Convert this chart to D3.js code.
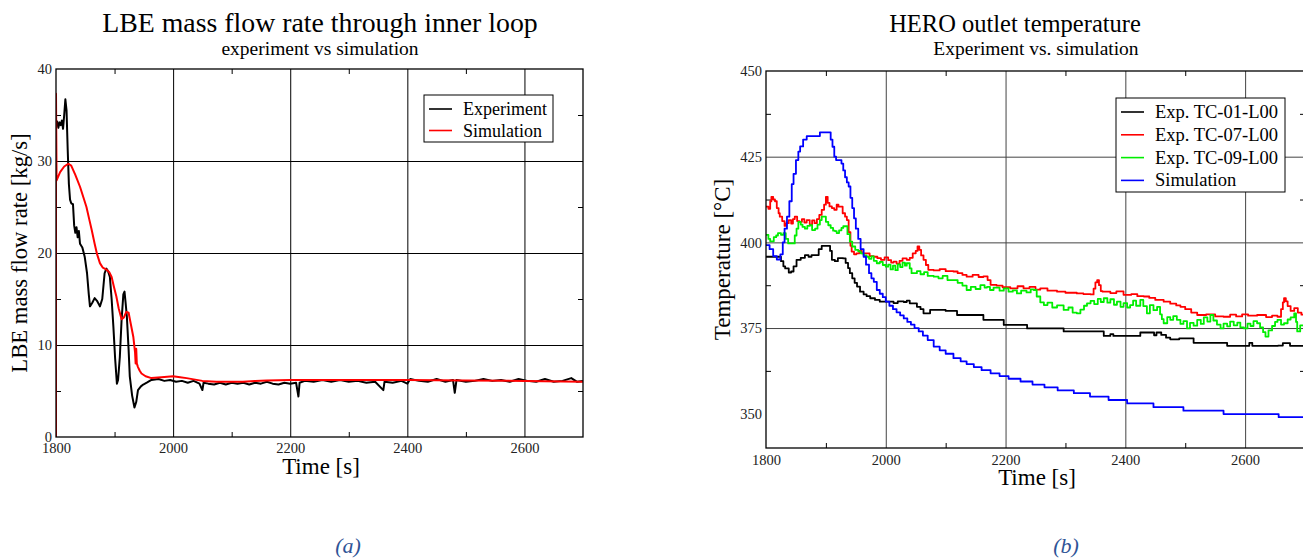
<!DOCTYPE html>
<html lang="en">
  <head>
    <meta charset="utf-8" />
    <script src="https://cdn.jsdelivr.net/npm/d3@7/dist/d3.min.js"></script>
    <style>
      body { margin: 0; background: #fff; }
      svg { font-family: "Liberation Serif", "Times New Roman", serif; }
      .tick text { fill: #222; }
      .domain { display: none; }
      .caption { fill: #2f5496; font-style: italic; font-size: 22px; }
    </style>
  </head>
  <body>
    <div id="container"></div>

    <script>
      const width = 1303;
      const height = 558;

      // ---- panel (a): LBE mass flow rate ----
      const flowExpT = [1800,1802,1804,1806,1808,1810,1812,1814,1816,1818,1820,1822,1824,1826,1829,1831,1833,1835,1837,1839,1841,1845,1849,1853,1856,1858,1862,1866,1870,1875,1879,1883,1886,1889,1892,1895,1898,1901,1904,1906,1909,1912,1915,1917,1919,1921,1924,1926,1930,1934,1937,1940,1945,1949,1955,1963,1975,1985,1995,2005,2015,2025,2035,2045,2050,2052,2060,2070,2080,2090,2100,2110,2120,2130,2140,2150,2160,2170,2180,2190,2200,2210,2214,2216,2225,2240,2255,2270,2285,2300,2315,2330,2345,2359,2361,2375,2390,2400,2405,2420,2435,2450,2465,2478,2481,2484,2500,2515,2530,2545,2560,2575,2590,2605,2620,2635,2650,2665,2680,2690,2700];
      const flowExpV = [33.8,34.3,33.6,34.2,33.9,34.4,33.5,35.0,36.7,35.5,31.2,27.5,25.8,25.4,25.3,23.0,22.2,22.8,21.7,22.4,21.0,20.6,19.6,17.8,15.5,14.2,14.6,15.1,14.8,14.2,15.0,17.8,18.3,18.0,17.4,15.0,12.0,8.5,5.8,6.2,8.7,12.7,15.5,15.8,14.5,13.1,9.5,6.6,4.5,3.2,3.8,5.1,5.5,5.7,5.9,6.2,6.3,6.1,6.2,6.0,6.1,5.9,6.1,5.8,5.1,5.9,5.8,5.7,5.9,5.7,5.9,5.8,5.9,5.7,5.9,5.8,6.0,5.8,5.7,5.9,5.8,5.9,4.4,5.9,6.1,6.0,6.2,6.0,6.2,6.0,6.1,5.9,6.0,5.1,6.0,5.9,6.1,5.8,6.3,6.1,6.0,6.3,6.0,6.2,4.8,6.2,6.0,6.1,6.3,6.1,6.2,6.0,6.3,6.1,6.0,6.3,6.0,6.1,6.4,6.0,6.1];

      const flowSimT = [1800,1800,1801,1807,1814,1821,1826,1833,1841,1847,1852,1857,1861,1866,1870,1875,1880,1886,1891,1895,1899,1903,1907,1912,1916,1920,1924,1928,1932,1935,1936,1937,1938,1940,1943,1946,1953,1963,1980,2000,2012,2023,2050,2074,2100,2119,2140,2160,2200,2250,2300,2400,2500,2600,2700];
      const flowSimV = [0,37.3,27.9,28.8,29.4,29.7,29.5,28.5,27.2,26.0,25.0,23.6,22.5,21.0,19.9,18.9,18.4,18.2,17.9,17.4,16.3,15.3,14.0,12.8,13.0,13.6,13.5,12.2,10.9,9.2,8.0,9.6,8.0,7.6,7.2,6.9,6.6,6.4,6.5,6.6,6.5,6.4,6.1,6.0,6.0,6.0,6.1,6.15,6.2,6.2,6.2,6.2,6.15,6.1,6.0];

      // ---- panel (b): HERO outlet temperature ----
      const simT = [1800,1806,1812,1818,1824,1828,1831,1835,1839,1843,1846,1850,1854,1857,1862,1868,1888,1890,1904,1908,1911,1914,1917,1926,1929,1932,1935,1938,1941,1944,1947,1950,1954,1958,1963,1967,1972,1976,1980,1985,1990,1995,2000,2006,2012,2018,2024,2030,2036,2042,2048,2055,2062,2070,2080,2090,2100,2113,2125,2135,2147,2160,2175,2190,2205,2225,2245,2265,2287,2314,2341,2372,2403,2447,2497,2564,2656,2700];
      const simV = [399.2,398,396,395,396.5,400,404,407.5,412,417,420,424,426.5,428,430,431,431,432.1,432.1,430,427.9,425,424,423,421,419,417.5,416.3,413,410,407,404,401,398,395.8,393.5,391,389.5,388.5,386.1,385,384,382.7,381.5,380.5,379.6,378.7,377.8,376.8,376,375,374,372.8,371.5,369.6,368.5,367.5,366.2,365.3,364.5,363.6,362.7,361.8,361,360.2,359.4,358.5,357.7,356.8,356.0,355.0,354.0,353.0,351.9,350.9,349.9,349.0,349.0];

      const tc01T = [1800,1821,1825,1829,1832,1838,1842,1846,1851,1858,1865,1871,1876,1882,1888,1893,1904,1907,1910,1915,1920,1929,1933,1937,1940,1944,1948,1952,1957,1963,1968,1974,1982,1990,2013,2020,2030,2035,2040,2052,2058,2063,2074,2100,2119,2158,2163,2185,2197,2236,2297,2330,2364,2375,2380,2403,2425,2440,2448,2452,2460,2468,2475,2490,2514,2570,2600,2607,2612,2655,2663,2675,2700];
      const tc01V = [395.8,395.8,394.5,393,392.4,391.2,391.5,393,394.9,395.5,396.3,395.8,396.3,396.3,398,399.0,399.0,397.5,394.9,394.5,395.4,395.3,394,392.5,391,389.5,388.2,387.1,385.6,384.8,384.3,383.7,383.2,382.7,382.3,382.8,382.6,383.0,382.2,381.2,380.5,379.3,380.3,380.0,378.8,378.8,377.4,377.4,375.9,374.9,374.0,374.0,372.7,373.2,372.7,372.7,373.7,373.7,372.9,373.7,373.0,372.2,371.7,372.0,370.7,369.8,369.8,370.7,369.8,369.9,370.6,369.8,369.8];

      const tc07T = [1800,1804,1807,1809,1812,1815,1818,1821,1823,1827,1831,1834,1838,1842,1845,1848,1852,1856,1860,1864,1868,1873,1877,1881,1885,1889,1893,1897,1900,1903,1906,1910,1914,1918,1921,1924,1928,1932,1935,1938,1941,1943,1947,1951,1956,1960,1968,1973,1980,1986,1992,1998,2004,2009,2013,2018,2023,2028,2035,2040,2045,2050,2053,2056,2059,2063,2067,2071,2080,2090,2100,2113,2120,2128,2135,2145,2155,2163,2170,2175,2185,2195,2208,2220,2230,2240,2250,2258,2270,2286,2300,2319,2330,2342,2347,2350,2353,2356,2359,2362,2375,2385,2397,2410,2420,2431,2440,2450,2464,2475,2485,2492,2500,2510,2520,2535,2550,2564,2575,2585,2595,2605,2620,2635,2645,2654,2660,2663,2665,2668,2671,2676,2682,2688,2694,2700];
      const tc07V = [410.4,409.8,412,413.3,412.5,412,410,408.5,407.5,406.2,404.8,405.6,406.5,405.5,406.8,407.5,406.2,406,406.8,405.8,406.5,405.2,406.4,405.6,406.8,408,409.5,411,413.3,411.5,410.5,410,409.5,411,410.4,410.4,408.5,407.5,406.5,403,399,397.3,396.5,396.8,397.5,396.8,396.8,396,395.8,395.4,394.9,395.6,394.8,394.1,394.4,393.8,394.6,395.3,394.9,395.5,396.8,397.5,398.8,397.8,396.2,394.9,393.4,392.0,391.8,392.2,391.6,391.5,391,390.5,390.0,390.5,389.9,390.1,389.0,387.6,387.4,386.9,386.6,387.2,386.6,387.0,386.2,386.6,385.9,385.6,385.3,385.1,384.9,384.8,386.5,388.3,389.0,387.5,385.8,385.6,385.2,385.7,384.7,384.9,384.3,384.2,383.8,383.2,382.7,382.1,381.6,381.2,380.5,379.5,378.8,379.0,378.4,378.3,378.9,378.4,379.0,378.6,378.8,378.2,378.6,378.3,380.5,382.5,383.7,382.8,381.4,380.0,380.8,379.5,378.9,379.0];

      const tc09T = [1800,1804,1807,1810,1813,1817,1820,1825,1829,1833,1837,1845,1848,1851,1854,1858,1861,1865,1869,1873,1877,1882,1886,1890,1893,1896,1900,1904,1908,1912,1915,1918,1922,1926,1929,1932,1936,1940,1944,1949,1954,1958,1963,1968,1972,1976,1980,1985,1990,1995,2000,2004,2008,2012,2016,2020,2024,2028,2032,2035,2040,2043,2046,2052,2058,2064,2070,2080,2088,2095,2103,2113,2120,2128,2135,2142,2150,2158,2165,2169,2174,2180,2190,2197,2205,2212,2219,2226,2235,2242,2247,2252,2258,2264,2270,2278,2286,2297,2305,2312,2319,2325,2331,2336,2342,2348,2354,2359,2364,2370,2375,2381,2386,2392,2397,2403,2408,2413,2418,2425,2430,2436,2441,2447,2453,2458,2461,2464,2470,2475,2480,2486,2492,2497,2503,2508,2514,2520,2526,2531,2537,2542,2547,2553,2559,2564,2570,2575,2581,2587,2592,2598,2604,2609,2614,2620,2625,2630,2634,2639,2645,2650,2654,2660,2665,2671,2676,2682,2685,2687,2692,2698,2700];
      const tc09V = [402.2,401,400.3,400.3,401.5,402,402.7,402.2,402.7,401,399.7,399.7,402,404,406,405.2,404.5,404,404.8,405,403.6,404,405.2,406.5,407.5,407.5,406,405,404.2,403.4,403.3,402.7,403.5,404.2,404.7,404.7,402.4,400.2,398.8,397.8,397.4,396.8,396.2,395.8,395.2,395.9,394.6,393.9,394.3,393.4,392.9,393.5,392.1,393.2,391.9,393.6,392.8,394.1,393.2,393.9,392.4,391.0,391.0,391.6,390.7,391.3,390.2,390.0,389.5,390.2,389.0,389.0,388.2,387.4,386.1,387.0,386.4,387.5,386.8,387.0,386.1,386.8,385.9,386.6,385.6,386.0,385.1,385.9,385.4,386.3,386.1,384.2,382.5,381.7,382.4,381.0,381.6,380.3,381.0,379.5,379.3,380.4,381.5,382.2,382.9,382.0,383.5,382.6,383.7,382.4,383.4,381.8,382.7,381.2,382.3,381.0,381.7,383.0,381.5,383.2,381.4,379.3,381.7,380.2,381.2,379.0,377.6,376.4,378.2,377.4,378.5,377.4,376.2,377.0,374.9,376.5,375.7,377.4,376.2,378.1,376.9,378.8,377.2,376.0,374.9,376.3,375.5,376.9,375.8,376.6,375.2,374.9,376.3,375.6,377.0,376.4,375.2,373.8,372.5,374.3,375.6,376.8,377.4,376.0,376.4,377.5,378.1,379.3,376.8,374.0,375.8,375.4,375.0];

      const xTicks = [1800, 2000, 2200, 2400, 2600];
      const xMinor = [1900, 2100, 2300, 2500];
      const flowTicks = [0, 10, 20, 30, 40];
      const flowMinor = [5, 15, 25, 35];
      const tempTicks = [350, 375, 400, 425, 450];
      const tempMinor = [362.5, 387.5, 412.5, 437.5];

      const zip = (t, v) => t.map((d, i) => [d, v[i]]);

      const svg = d3.select("#container").append("svg").attr("width", width).attr("height", height);

      function panel(o) {
        const x = d3.scaleLinear().domain([1800, 2700]).range([o.left, o.right]);
        const y = d3.scaleLinear().domain(o.ydom).range([o.bottom, o.top]);
        const g = svg.append("g");
        const h = o.bottom - o.top;
        const w = o.right - o.left;

        // grid
        g.append("g").attr("transform", `translate(0,${o.bottom})`)
          .call(d3.axisBottom(x).tickValues(xTicks.slice(1)).tickSize(-h).tickFormat(""))
          .selectAll("line").attr("stroke", o.gridColor);
        g.append("g").attr("transform", `translate(${o.left},0)`)
          .call(d3.axisLeft(y).tickValues(o.yTicks.slice(1, -1)).tickSize(-w).tickFormat(""))
          .selectAll("line").attr("stroke", o.gridColor);

        // minor ticks, inward on all sides
        const tk = 5;
        g.append("g").attr("transform", `translate(0,${o.bottom})`).call(d3.axisBottom(x).tickValues(xMinor).tickSize(-tk).tickFormat(""));
        g.append("g").attr("transform", `translate(0,${o.top})`).call(d3.axisTop(x).tickValues(xMinor).tickSize(-tk).tickFormat(""));
        g.append("g").attr("transform", `translate(${o.left},0)`).call(d3.axisLeft(y).tickValues(o.yMinor).tickSize(-tk).tickFormat(""));
        g.append("g").attr("transform", `translate(${o.right},0)`).call(d3.axisRight(y).tickValues(o.yMinor).tickSize(-tk).tickFormat(""));

        // tick labels
        g.append("g").attr("transform", `translate(0,${o.bottom})`)
          .call(d3.axisBottom(x).tickValues(xTicks).tickFormat(d3.format("d")).tickSize(0).tickPadding(o.xPad))
          .selectAll("text").style("font-size", "14.5px").style("font-family", "'Liberation Serif', serif");
        g.append("g").attr("transform", `translate(${o.left},0)`)
          .call(d3.axisLeft(y).tickValues(o.yTicks).tickFormat(d3.format("d")).tickSize(0).tickPadding(4))
          .selectAll("text").style("font-size", "14.5px").style("font-family", "'Liberation Serif', serif");

        // lines
        const clipId = "clip" + o.id;
        svg.append("clipPath").attr("id", clipId).append("rect")
          .attr("x", o.left).attr("y", o.top).attr("width", w).attr("height", h);
        const lg = g.append("g").attr("clip-path", `url(#${clipId})`);
        o.series.forEach((s) => {
          const line = d3.line().x((d) => x(d[0])).y((d) => y(d[1])).curve(o.curve);
          lg.append("path").datum(s.data).attr("fill", "none").attr("stroke", s.color)
            .attr("stroke-width", o.lw).attr("stroke-linejoin", "round").attr("d", line);
        });

        // frame
        g.append("rect").attr("x", o.left).attr("y", o.top).attr("width", w).attr("height", h)
          .attr("fill", "none").attr("stroke", "#000").attr("stroke-width", 1.3);

        // titles and axis labels
        g.append("text").attr("x", o.titleX).attr("y", 32).attr("text-anchor", "middle")
          .attr("font-size", o.titleSize).text(o.title);
        g.append("text").attr("x", o.subX).attr("y", 55).attr("text-anchor", "middle")
          .attr("font-size", 19.5).text(o.subtitle);
        g.append("text").attr("x", o.xlabX).attr("y", o.xlabY)
          .attr("text-anchor", "middle").attr("font-size", 23).text("Time [s]");
        g.append("text").attr("transform", `translate(${o.ylabX},${(o.top + o.bottom) / 2}) rotate(-90)`)
          .attr("text-anchor", "middle").attr("font-size", o.ylabSize).text(o.ylabel);

        // legend
        const L = o.legend;
        const leg = g.append("g");
        leg.append("rect").attr("x", L.x).attr("y", L.y).attr("width", L.w).attr("height", L.h)
          .attr("fill", "#fff").attr("stroke", "#000").attr("stroke-width", 1);
        o.series.forEach((s, i) => {
          const yy = L.y + L.first + i * L.step;
          leg.append("line").attr("x1", L.x + 5).attr("x2", L.x + 28).attr("y1", yy).attr("y2", yy)
            .attr("stroke", s.color).attr("stroke-width", 1.6);
          leg.append("text").attr("x", L.x + 39).attr("y", yy + 6).attr("font-size", L.fs).text(s.name);
        });
      }

      panel({
        id: "a", left: 56, right: 583, top: 69, bottom: 437, ydom: [0, 40],
        yTicks: flowTicks, yMinor: flowMinor, gridColor: "#000", xPad: 6,
        curve: d3.curveLinear, lw: 2,
        title: "LBE mass flow rate through inner loop", titleX: 320, titleSize: 27.8,
        subtitle: "experiment vs simulation", subX: 320,
        xlabX: 321, xlabY: 474, ylabX: 27, ylabSize: 22.7, ylabel: "LBE mass flow rate [kg/s]",
        legend: { x: 424, y: 95, w: 129, h: 47, first: 14, step: 21.5, fs: 18 },
        series: [
          { name: "Experiment", color: "#000", data: zip(flowExpT, flowExpV) },
          { name: "Simulation", color: "#ff0000", data: zip(flowSimT, flowSimV) },
        ],
      });

      panel({
        id: "b", left: 766, right: 1305, top: 71, bottom: 448, ydom: [340, 450],
        yTicks: tempTicks, yMinor: tempMinor, gridColor: "#444", xPad: 7,
        curve: d3.curveStepAfter, lw: 1.8,
        title: "HERO outlet temperature", titleX: 1015, titleSize: 24.5,
        subtitle: "Experiment vs. simulation", subX: 1036,
        xlabX: 1037, xlabY: 485, ylabX: 730, ylabSize: 23, ylabel: "Temperature [\u00b0C]",
        legend: { x: 1116, y: 98, w: 169, h: 94, first: 14, step: 22.8, fs: 18.5 },
        series: [
          { name: "Exp. TC-01-L00", color: "#000", data: zip(tc01T, tc01V) },
          { name: "Exp. TC-07-L00", color: "#ff0000", data: zip(tc07T, tc07V) },
          { name: "Exp. TC-09-L00", color: "#00ee00", data: zip(tc09T, tc09V) },
          { name: "Simulation", color: "#0000ff", data: zip(simT, simV) },
        ],
      });

      svg.append("text").attr("class", "caption").attr("x", 348).attr("y", 553).attr("text-anchor", "middle").text("(a)");
      svg.append("text").attr("class", "caption").attr("x", 1066).attr("y", 553).attr("text-anchor", "middle").text("(b)");
    </script>
  </body>
</html>
